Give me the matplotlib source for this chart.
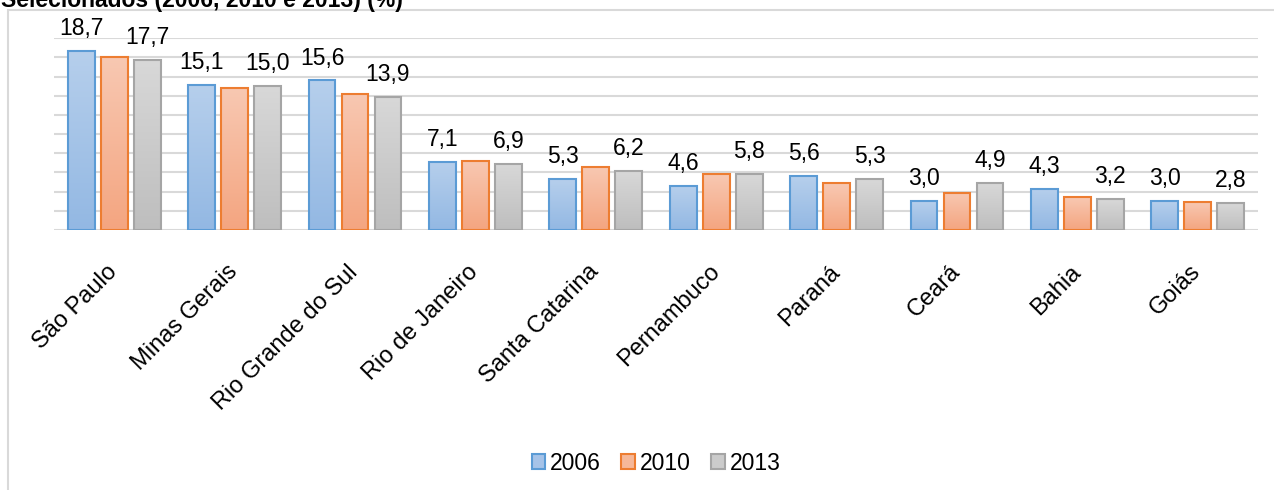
import numpy as np
import matplotlib
matplotlib.use('Agg')
import matplotlib.pyplot as plt
from matplotlib.colors import LinearSegmentedColormap
from matplotlib.patches import Patch, Rectangle
from matplotlib.transforms import ScaledTranslation

plt.rcParams['font.family'] = ['Liberation Sans', 'DejaVu Sans']

estados = ['São Paulo', 'Minas Gerais', 'Rio Grande do Sul', 'Rio de Janeiro',
           'Santa Catarina', 'Pernambuco', 'Paraná', 'Ceará', 'Bahia', 'Goiás']
anos = ['2006', '2010', '2013']
v2006 = [18.7, 15.1, 15.6, 7.1, 5.3, 4.6, 5.6, 3.0, 4.3, 3.0]
v2010 = [18.0, 14.8, 14.2, 7.2, 6.6, 5.8, 4.9, 3.9, 3.4, 2.9]
v2013 = [17.7, 15.0, 13.9, 6.9, 6.2, 5.8, 5.3, 4.9, 3.2, 2.8]
serie = [v2006, v2010, v2013]
com_rotulo = [True, False, True]   # only 2006 and 2013 carry value labels

borda = ['#5B9BD5', '#ED7D31', '#A5A5A5']
topo = ['#B6CFEC', '#F8C8B2', '#D8D8D8']
base = ['#93B8E3', '#F4A580', '#BEBEBE']
meio = ['#A6C3E8', '#F6B899', '#CBCBCB']

W, H = 1274, 490
fig = plt.figure(figsize=(W / 100, H / 100), dpi=100)
ax = fig.add_axes([54 / W, 1 - 230 / H, (1258 - 54) / W, (230 - 38.3) / H])

x = np.arange(len(estados))
passo = 0.274
larg = 0.224
grad = np.linspace(0, 1, 128).reshape(-1, 1)

for i, vals in enumerate(serie):
    pos = x + (i - 1) * passo
    cmap = LinearSegmentedColormap.from_list('g%d' % i, [base[i], topo[i]])
    # gradient fill, one image per bar
    for xp, v in zip(pos, vals):
        ax.imshow(grad, extent=(xp - larg / 2, xp + larg / 2, 0, v), origin='lower',
                  cmap=cmap, aspect='auto', zorder=2, interpolation='bilinear')
    ax.bar(pos, vals, width=larg, facecolor='none', edgecolor=borda[i],
           linewidth=1.5, zorder=3)
    if com_rotulo[i]:
        for xp, v in zip(pos, vals):
            ax.annotate(f'{v:.1f}'.replace('.', ','), (xp, v), xytext=(0, 11.5),
                        textcoords='offset points', ha='center', va='baseline',
                        fontsize=16.5)

ax.set_xlim(-0.5, len(estados) - 0.5)
ax.set_ylim(0, 20)
ax.set_aspect('auto')
ax.set_yticks(np.arange(0, 21, 2))
ax.grid(axis='y', color='#D9D9D9', linewidth=1.5, zorder=0)
ax.set_axisbelow(True)
for s in ax.spines.values():
    s.set_visible(False)
ax.tick_params(length=0, labelleft=False)
ax.set_xticks(x, estados, rotation=45, ha='right', rotation_mode='anchor', fontsize=17)
desloc = ScaledTranslation(-8 / 100, -26 / 100, fig.dpi_scale_trans)
for lab in ax.get_xticklabels():
    lab.set_transform(lab.get_transform() + desloc)

maos = [Patch(facecolor=meio[i], edgecolor=borda[i], linewidth=1.5, label=anos[i])
        for i in range(3)]
fig.legend(handles=maos, loc='center', bbox_to_anchor=(656 / W, 1 - 463 / H), ncol=3,
           frameon=False, fontsize=16.5, handlelength=0.6, handleheight=0.6,
           handletextpad=0.2, columnspacing=0.9, borderpad=0)

fig.add_artist(Rectangle((8 / W, -0.05), 1.1, (H - 10) / H + 0.05,
                         transform=fig.transFigure, fill=False,
                         edgecolor='#D9D9D9', linewidth=1.5))
fig.text(1 / W, 1 - 7 / H, 'Selecionados (2006, 2010 e 2013) (%)', fontsize=16.5,
         fontweight='bold', ha='left', va='baseline')

fig.savefig('out.png', dpi=100)
